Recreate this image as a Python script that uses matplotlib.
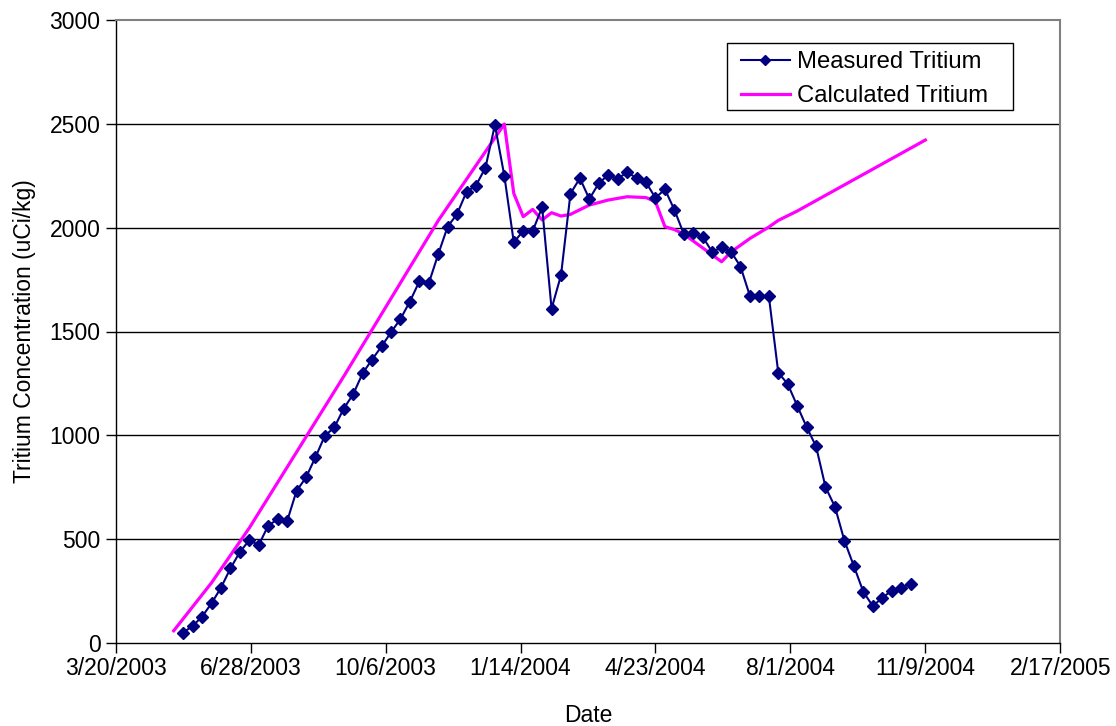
import matplotlib
matplotlib.use("Agg")
import matplotlib.pyplot as plt
from matplotlib.patches import Rectangle
import pandas as pd

# ---- data ----
measured_start = "2003-05-09"
measured_values = [50, 82, 127, 191, 266, 359, 438, 495, 472, 565,
                   596, 586, 732, 797, 894, 998, 1038, 1129, 1198, 1299,
                   1365, 1428, 1496, 1560, 1644, 1741, 1732, 1872, 2005, 2066,
                   2173, 2203, 2289, 2494, 2250, 1930, 1984, 1984, 2098, 1610,
                   1771, 2164, 2238, 2138, 2214, 2254, 2234, 2268, 2238, 2218,
                   2143, 2185, 2086, 1970, 1972, 1956, 1883, 1905, 1884, 1813,
                   1671, 1671, 1671, 1302, 1247, 1143, 1040, 947, 751, 656,
                   493, 371, 247, 178, 217, 252, 266, 286]
measured_dates = pd.date_range(measured_start, periods=len(measured_values), freq="7D")

calc_dates = pd.to_datetime([
    "2003-05-02", "2003-05-30", "2003-06-27", "2003-09-05", "2003-11-14", "2004-01-02",
    "2004-01-09", "2004-01-16", "2004-01-23", "2004-01-30", "2004-02-06",
    "2004-02-13", "2004-02-20", "2004-03-05", "2004-03-19", "2004-04-02",
    "2004-04-16", "2004-04-23", "2004-04-30", "2004-05-07", "2004-05-14",
    "2004-06-11", "2004-06-18", "2004-07-02", "2004-07-16", "2004-07-23",
    "2004-08-06", "2004-11-09"])
calc_values = [59, 290, 554, 1284, 2034, 2499,
               2165, 2053, 2088, 2037, 2072,
               2056, 2064, 2109, 2133, 2149,
               2145, 2125, 2005, 1991, 1969,
               1836, 1883, 1948, 2003, 2035,
               2080, 2422]

x_tick_dates = pd.to_datetime(["2003-03-20", "2003-06-28", "2003-10-06", "2004-01-14",
                               "2004-04-23", "2004-08-01", "2004-11-09", "2005-02-17"])
y_ticks = [0, 500, 1000, 1500, 2000, 2500, 3000]

# ---- plot ----
plt.rcParams['font.family'] = ['Liberation Sans', 'DejaVu Sans']
FS = 16.5
W, H = 1116, 726
fig = plt.figure(figsize=(W / 100, H / 100), dpi=100)
ax = fig.add_axes([115.7 / W, 1 - 643 / H, (1060.3 - 115.7) / W, (643 - 20) / H])

for yv in y_ticks[1:-1]:
    ax.axhline(yv, color="#000000", lw=1.0, zorder=1)

ax.plot(measured_dates, measured_values, color="#000080", lw=1.5, marker="D",
        markersize=6.5, markerfacecolor="#000080", markeredgecolor="#000080",
        label="Measured Tritium", zorder=3)
ax.plot(calc_dates, calc_values, color="#FF00FF", lw=2.3, label="Calculated Tritium",
        zorder=2)

ax.set_xlim(x_tick_dates[0], x_tick_dates[-1])
ax.set_ylim(0, 3000)
ax.set_xticks(x_tick_dates)
ax.set_xticklabels([f"{d.month}/{d.day}/{d.year}" for d in x_tick_dates])
ax.set_yticks(y_ticks)
ax.set_yticklabels([str(v) for v in y_ticks])

ax.tick_params(axis="both", direction="out", length=7, width=1.0, color="#000000",
               labelsize=FS, pad=4)
ax.tick_params(axis="x", pad=3)

for side in ["left", "bottom"]:
    ax.spines[side].set_color("#000000")
    ax.spines[side].set_linewidth(1.0)
for side in ["top", "right"]:
    ax.spines[side].set_color("#808080")
    ax.spines[side].set_linewidth(1.5)

ax.set_xlabel("Date", fontsize=FS, labelpad=17)
ax.set_ylabel("Tritium Concentration (uCi/kg)", fontsize=FS, labelpad=10)

leg = ax.legend(loc="upper left", bbox_to_anchor=(741 / W, 1 - 51 / H),
                bbox_transform=fig.transFigure,
                fontsize=17.2, frameon=False, borderpad=0, handlelength=2.05,
                labelspacing=0.5, handletextpad=0.3, borderaxespad=0)
for h in leg.legend_handles:
    try:
        h.set_markersize(5)
    except Exception:
        pass

fig.add_artist(Rectangle((727 / W, 1 - 110 / H), 286 / W, 67 / H, transform=fig.transFigure,
                         fill=False, edgecolor="#000000", lw=1.0))

fig.savefig("out.png", dpi=100, facecolor="white")
